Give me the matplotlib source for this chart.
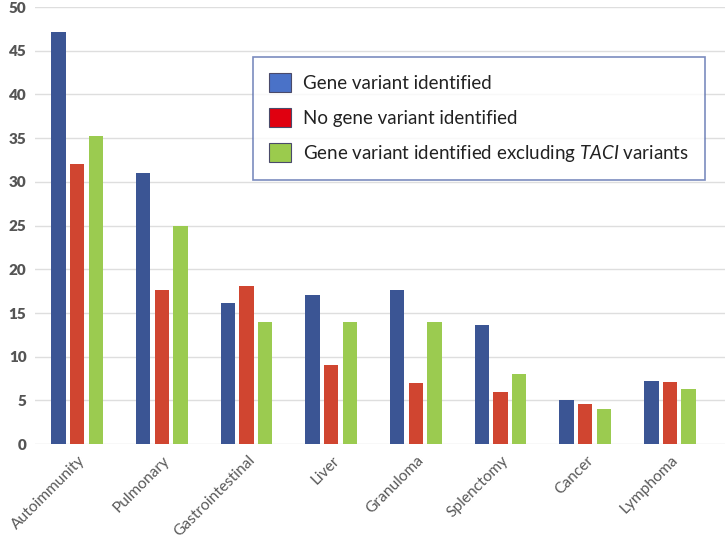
import numpy as np
import matplotlib
matplotlib.use("Agg")
import matplotlib.pyplot as plt
import matplotlib.transforms as mtransforms
from matplotlib.patches import Patch

plt.rcParams['font.family'] = ['Lato', 'DejaVu Sans']
plt.rcParams['mathtext.fontset'] = 'custom'
plt.rcParams['mathtext.it'] = 'Lato:italic'
plt.rcParams['mathtext.rm'] = 'Lato'

categories = ['Autoimmunity', 'Pulmonary', 'Gastrointestinal', 'Liver',
              'Granuloma', 'Splenctomy', 'Cancer', 'Lymphoma']
variant = [47.1, 31.0, 16.1, 17.1, 17.6, 13.6, 5.0, 7.2]
no_variant = [32.0, 17.6, 18.1, 9.0, 7.0, 6.0, 4.6, 7.1]
variant_no_taci = [35.2, 25.0, 14.0, 14.0, 14.0, 8.0, 4.0, 6.3]
labels = ['Gene variant identified', 'No gene variant identified',
          r'Gene variant identified excluding $\it{TACI}$ variants']

bar_cols = ['#3B5594', '#D04530', '#9BCB50']
leg_cols = ['#4A72C8', '#E00010', '#9BCB4D']

fig = plt.figure(figsize=(7.25, 5.41), dpi=100)
ax = fig.add_axes([0.048, 0.179, 0.952, 0.808])

x = np.arange(len(categories))
w = 0.17
step = 0.22
for i, vals in enumerate([variant, no_variant, variant_no_taci]):
    ax.bar(x + (i - 1) * step, vals, width=w, color=bar_cols[i], zorder=3)

ax.set_xlim(-0.5, 7.65)
ax.set_ylim(0, 50)
ax.set_yticks(np.arange(0, 51, 5))
ax.grid(axis='y', color='#dedede', linewidth=1, zorder=0)
for s in ax.spines.values():
    s.set_visible(False)
ax.tick_params(axis='both', length=0)
ax.tick_params(axis='y', labelsize=11, labelcolor='#555555', pad=6)
for t in ax.get_yticklabels():
    t.set_fontweight('heavy')
ax.set_xticks(x)
ax.set_xticklabels(categories, rotation=45, ha='right', va='center',
                   rotation_mode='anchor', fontsize=11.2, color='#595959')
ax.tick_params(axis='x', pad=10)
shift = mtransforms.ScaledTranslation(6 / 100, 0, fig.dpi_scale_trans)
for t in ax.get_xticklabels():
    t.set_transform(t.get_transform() + shift)

handles = [Patch(facecolor=c, edgecolor='#4a4a6a', linewidth=0.8) for c in leg_cols]
leg = ax.legend(handles, labels, loc='upper left', bbox_to_anchor=(0.316, 0.886),
                borderaxespad=0, fontsize=13.5, frameon=True, fancybox=False,
                handlelength=1.2, handleheight=1.2, labelspacing=0.85,
                borderpad=0.85, handletextpad=0.6)
leg.get_frame().set_edgecolor('#5a6fae')
leg.get_frame().set_linewidth(1.2)
for t in leg.get_texts():
    t.set_color('#222222')

fig.savefig('out.png', dpi=100)
